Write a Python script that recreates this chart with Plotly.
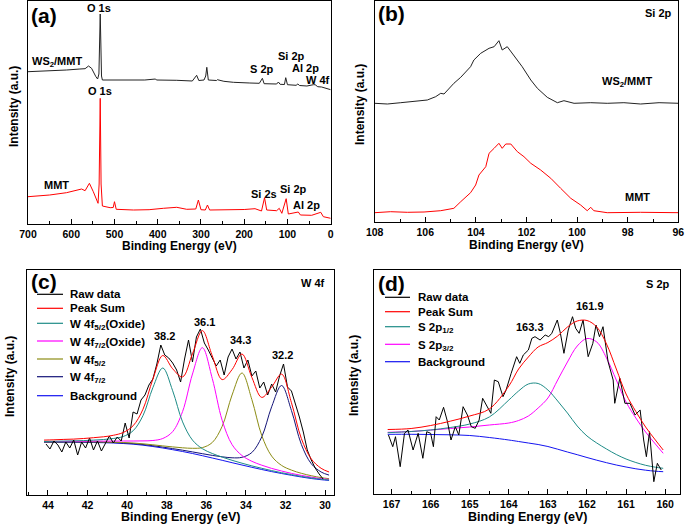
import plotly.graph_objects as go

FONT = "Liberation Sans, Arial, sans-serif"

# ---------------- (a) survey ----------------
a_ws2_x = [700, 650, 611, 580, 568, 560, 553, 543, 539, 536, 534.5, 533, 531.5, 530, 528, 500, 450, 433, 430, 405, 403,
           356, 320, 310, 305, 293, 289, 286.5, 283, 264, 262, 247, 225, 187, 165, 158, 154, 125, 121, 117, 107,
           104, 100, 80, 76, 72, 55, 40, 36, 30, 21, 0]
a_ws2_y = [152.3, 153, 154, 155, 155.3, 158, 155.7, 147.3, 145, 150, 185, 210, 180, 148, 144, 144, 144.3, 144.7, 144, 145, 144,
           143.7, 143, 148.7, 143.5, 144, 148, 156.7, 144, 143.5, 144.3, 142.7, 141.7, 141, 140.7, 145.7, 140.3, 140, 142, 139.7, 139.5,
           146.3, 139.3, 138.7, 140, 138.5, 138, 139.3, 139.3, 137.3, 137, 134.3]
a_mmt_x = [700, 650, 611, 580, 576, 568, 558, 549, 541, 538, 535.5, 533, 531, 528, 510, 503, 500, 496, 456, 420, 387,
           356, 333, 312, 306, 300, 290, 285, 280, 225, 200, 175, 160, 153, 148, 125, 119, 113, 103, 98, 80, 75, 70,
           44, 23, 17, 0]
a_mmt_y = [27.3, 29, 31.3, 34.3, 35, 33.3, 40.7, 32.3, 22.3, 20.7, 40, 125.7, 40, 18, 16.3, 16.5, 22.3, 14.7, 14, 14.3, 15.7,
           16.7, 14.7, 15, 24, 14.3, 14, 19, 14, 14, 14.5, 15.3, 13, 26.3, 14, 13.3, 15.7, 10.7, 25.3, 10, 11.3, 12, 9,
           8.7, 11.7, 7.3, 5.7]

# ---------------- (b) Si 2p ----------------
b_ws2_x = [108.0, 107.5, 106.97, 106.32, 105.92, 105.59, 105.39, 105.26, 104.87, 104.6, 104.21, 104.08, 103.81, 103.48,
           103.28, 103.09, 102.96, 102.76, 102.49, 102.17, 101.83, 101.57, 101.18, 100.78, 100.52, 100.12, 99.46,
           98.81, 98.15, 97.49, 96.76, 95.97]
b_ws2_y = [118.7, 118, 119.3, 121, 122, 125.3, 128.7, 128, 138.7, 144.7, 155.3, 162, 168.7, 173.7,
           175.3, 181.3, 172, 175.3, 166, 155.3, 142, 133.7, 124.7, 119.3, 121.3, 118.7, 119.3,
           118.7, 119.3, 118, 119.3, 118.7]
b_mmt_x = [108.0, 107.37, 106.71, 106.05, 105.39, 104.87, 104.6, 104.21, 104.01, 103.88, 103.61, 103.48, 103.28, 103.09,
           102.96, 102.82, 102.62, 102.36, 102.1, 101.83, 101.44, 101.04, 100.65, 100.25, 99.86, 99.6, 99.46, 99.34,
           98.81, 97.49, 95.97]
b_mmt_y = [9.3, 10.3, 9.7, 10, 11.3, 13.7, 20.3, 29.3, 37, 47, 55.3, 68.7, 73.7, 78.7,
           73.7, 78, 78, 70.3, 65.3, 58.7, 52, 43.7, 33.7, 23.7, 17, 11.3, 14.7, 11.3,
           9.3, 9.7, 9.3]

# ---------------- (c) W 4f ----------------
c_raw_x = [44.1, 43.9, 43.7, 43.5, 43.3, 43.1, 42.9, 42.7, 42.5, 42.3, 42.1, 41.9, 41.7, 41.5, 41.3, 41.1, 40.9, 40.7,
           40.5, 40.3, 40.1, 39.9, 39.7, 39.5, 39.3, 39.1, 38.9, 38.7, 38.5, 38.3, 38.1, 37.9, 37.7, 37.5, 37.3, 37.1,
           36.9, 36.7, 36.5, 36.3, 36.1, 35.9, 35.7, 35.5, 35.3, 35.1, 34.9, 34.7, 34.5, 34.3, 34.1, 33.9, 33.7, 33.5,
           33.3, 33.1, 32.9, 32.7, 32.5, 32.3, 32.1, 31.9, 31.7, 31.5, 31.3, 31.1, 30.9, 30.7, 30.5, 30.3, 30.1]
c_raw_y = [51, 46, 54, 50, 43, 53, 47, 55, 40, 53, 47, 57, 45, 54, 44, 51, 59, 52,
           58, 54, 72, 57, 83, 81, 95, 100, 110, 116, 131, 150, 140, 137, 132, 125, 113, 136,
           155, 133, 158, 166, 152, 145, 137, 129, 135, 120, 138, 146, 136, 143, 127, 135, 119, 124,
           107, 113, 100, 111, 103, 119, 131, 108, 104, 92, 78, 63, 45, 35, 27, 21, 16]
c_fit_x = [44.2, 43.7, 43.2, 42.7, 42.2, 41.7, 41.2, 40.7, 40.2, 39.7, 39.2, 38.7, 38.2, 37.7, 37.2, 36.7, 36.2, 35.7,
           35.2, 34.7, 34.2, 33.7, 33.2, 32.7, 32.2, 31.7, 31.2, 30.7, 30.2, 29.8]
c_bg = [52.7, 52.7, 52.7, 52.7, 52.6, 52.5, 52.3, 52.0, 51.5, 50.8, 49.8, 48.5, 47.0, 45.3, 43.5, 41.5, 39.3, 37.0,
        34.7, 32.3, 30.0, 27.7, 25.5, 23.4, 21.5, 19.7, 18.0, 16.5, 15.3, 14.6]
c_ox52 = [53.5, 53.7, 53.9, 54.1, 54.4, 54.9, 55.5, 56.5, 58.5, 64.2, 79.4, 107.4, 127.0, 104.2, 73.1, 54.9, 46.3, 41.5,
          37.9, 34.7, 31.8, 29.1, 26.7, 24.4, 22.3, 20.4, 18.6, 17.1, 15.8, 15.0]
c_ox72 = [53.4, 53.5, 53.6, 53.7, 53.7, 53.9, 53.9, 53.9, 54.0, 54.0, 54.1, 54.5, 56.5, 63.4, 83.5, 121.0, 147.3, 116.5,
          74.7, 50.4, 39.5, 33.7, 29.8, 26.6, 24.0, 21.6, 19.6, 17.9, 16.4, 15.6]
c_w52 = [53.1, 53.1, 53.2, 53.2, 53.2, 53.1, 53.0, 52.8, 52.5, 52.0, 51.2, 50.2, 49.1, 48.1, 47.2, 46.7, 47.4, 52.5,
         68.7, 100.0, 122.0, 95.4, 59.5, 38.9, 29.6, 24.9, 21.7, 19.3, 17.4, 16.3]
c_w72 = [53.0, 53.0, 53.0, 53.0, 53.0, 52.9, 52.7, 52.5, 52.0, 51.4, 50.5, 49.3, 47.9, 46.4, 44.8, 43.1, 41.3, 39.6,
         38.2, 37.2, 37.7, 42.5, 58.1, 88.2, 109.5, 84.5, 50.6, 31.3, 23.0, 19.9]
c_sum = [54.9, 55.2, 55.6, 55.9, 56.5, 57.3, 58.2, 59.7, 62.5, 69.2, 85.8, 115.9, 139.5, 126.2, 118.1, 141.2, 164.4, 139.1,
         115.4, 125.4, 141.0, 117.6, 97.6, 107.9, 120.9, 92.3, 56.5, 36.1, 26.7, 23.0]

# ---------------- (d) S 2p ----------------
d_raw_x = [167.08, 166.97, 166.9, 166.78, 166.67, 166.58, 166.45, 166.32, 166.2, 166.1, 166.0, 165.93, 165.86, 165.78,
           165.67, 165.57, 165.48, 165.37, 165.28, 165.17, 165.06, 164.96, 164.86, 164.76, 164.67, 164.54, 164.46,
           164.37, 164.27, 164.15, 164.07, 163.94, 163.8, 163.72, 163.63, 163.5, 163.41, 163.33, 163.2, 163.07,
           162.98, 162.9, 162.76, 162.68, 162.59, 162.48, 162.37, 162.29, 162.2, 162.1, 161.97, 161.85, 161.77,
           161.68, 161.59, 161.46, 161.33, 161.29, 161.16, 161.03, 160.9, 160.77, 160.64, 160.55, 160.48, 160.4,
           160.29, 160.2, 160.1]
d_raw_y = [59, 47.3, 57.3, 27.3, 60.7, 64, 44, 60.7, 35.7, 62.3, 60.7, 47.3, 77.3, 74,
           86.7, 72.3, 54, 67.3, 59, 87.3, 79, 67.3, 65.7, 74, 95.7, 87.3, 80.7,
           114, 112.3, 97.3, 104, 120.7, 137.3, 130.7, 139, 144, 155.7, 157.3, 154, 159,
           157.3, 160.7, 174, 160.7, 140.7, 164, 177.3, 165.7, 160.7, 174, 137.3, 150.7, 169,
           157.3, 167.3, 132.3, 114, 90.7, 115.7, 90.7, 90.7, 79, 84, 54, 37.3, 62.3,
           12.3, 30.7, 24]
d_fit_x = [167.1, 166.5, 166.0, 165.5, 165.0, 164.5, 164.0, 163.75, 163.5, 163.25, 163.0, 162.75, 162.5, 162.25,
           162.0, 161.75, 161.5, 161.25, 161.0, 160.75, 160.5, 160.25, 160.05]
d_bg = [59.7, 59.7, 59.5, 59.2, 58.5, 56.5, 54.0, 52.5, 51.0, 49.5, 47.5, 44.8, 42.0, 39.3,
        36.5, 33.8, 31.3, 29.0, 27.0, 25.2, 23.8, 22.8, 22.3]
d_p12 = [61.3, 62.5, 64.0, 66.5, 70.0, 77.0, 94.0, 103.0, 110.0, 110.5, 104.0, 93.0, 81.0, 68.0,
         58.0, 51.0, 45.0, 39.5, 35.0, 31.5, 28.7, 26.8, 25.7]
d_p32 = [61.7, 62.5, 64.0, 65.5, 67.0, 69.0, 71.0, 73.5, 78.0, 86.0, 96.0, 114.0, 132.0, 148.0,
         155.5, 152.0, 136.0, 114.0, 92.0, 76.0, 62.0, 50.0, 40.7]
d_sum = [64.5, 65.5, 68.5, 72.8, 78.0, 85.0, 108.0, 125.0, 137.0, 147.0, 151.5, 158.0, 167.0, 173.0,
         173.5, 167.0, 150.0, 125.0, 100.0, 82.5, 67.0, 54.0, 44.0]

# legend entries (label, colour key)
c_legend = ["Raw data", "Peak Sum", "W 4f<sub>5/2</sub>(Oxide)", "W 4f<sub>7/2</sub>(Oxide)",
            "W 4f<sub>5/2</sub>", "W 4f<sub>7/2</sub>", "Background"]
d_legend = ["Raw data", "Peak Sum", "S 2p<sub>1/2</sub>", "S 2p<sub>3/2</sub>", "Background"]

RED = "#FF0000"
TEAL = "#1E8C87"
MAG = "#FF00FF"
OLIVE = "#8C8C14"
NAVY = "#141478"
BLUE = "#1414F0"
BLK = "#000000"
c_colors = [BLK, RED, TEAL, MAG, OLIVE, NAVY, BLUE]
d_colors = [BLK, RED, TEAL, MAG, BLUE]

W, H = 685, 525
def px(x): return x / W
def py(y): return 1 - y / H

fig = go.Figure()

def add(x, y, color, xa, ya, shape="linear", width=1.0, name=""):
    fig.add_trace(go.Scatter(x=x, y=y, mode="lines", line=dict(color=color, width=width, shape=shape),
                             xaxis=xa, yaxis=ya, name=name, showlegend=False, hoverinfo="skip"))

# (a)
add(a_ws2_x, a_ws2_y, "#222222", "x", "y", name="WS2/MMT")
add(a_mmt_x, a_mmt_y, RED, "x", "y", name="MMT")
# (b)
add(b_ws2_x, b_ws2_y, "#222222", "x2", "y2", name="WS2/MMT")
add(b_mmt_x, b_mmt_y, RED, "x2", "y2", name="MMT")
# (c)
add(c_fit_x, c_bg, BLUE, "x3", "y3", "spline", name="Background")
add(c_fit_x, c_w72, NAVY, "x3", "y3", "spline", name="W 4f7/2")
add(c_fit_x, c_w52, OLIVE, "x3", "y3", "spline", name="W 4f5/2")
add(c_fit_x, c_ox72, MAG, "x3", "y3", "spline", name="W 4f7/2(Oxide)")
add(c_fit_x, c_ox52, TEAL, "x3", "y3", "spline", name="W 4f5/2(Oxide)")
add(c_raw_x, c_raw_y, BLK, "x3", "y3", name="Raw data")
add(c_fit_x, c_sum, RED, "x3", "y3", "spline", name="Peak Sum")
# (d)
add(d_fit_x, d_bg, BLUE, "x4", "y4", "spline", name="Background")
add(d_fit_x, d_p32, MAG, "x4", "y4", "spline", name="S 2p3/2")
add(d_fit_x, d_p12, TEAL, "x4", "y4", "spline", name="S 2p1/2")
add(d_raw_x, d_raw_y, BLK, "x4", "y4", name="Raw data")
add(d_fit_x, d_sum, RED, "x4", "y4", "spline", name="Peak Sum")

tickfont = dict(family=FONT, size=10.5, color="black", weight="bold")

def xax(left, right, rng, dtick, minor, anchor):
    return dict(domain=[px(left), px(right)], range=rng, dtick=dtick, tick0=0, ticks="inside", ticklen=5,
                tickwidth=1, tickcolor="black", automargin=False,
                minor=dict(dtick=minor, tick0=0, ticks="inside", ticklen=3, tickwidth=1, tickcolor="black"),
                showline=True, linecolor="black", linewidth=1, mirror=True, showgrid=False, zeroline=False,
                tickfont=tickfont, anchor=anchor)

def yax(top, bottom, rng, anchor):
    return dict(domain=[py(bottom), py(top)], range=rng, showticklabels=False, ticks="", showline=True,
                linecolor="black", linewidth=1, mirror=True, showgrid=False, zeroline=False, anchor=anchor,
                automargin=False)

fig.update_layout(
    width=W, height=H, margin=dict(l=0, r=0, t=0, b=0, pad=0, autoexpand=False),
    plot_bgcolor="white", paper_bgcolor="white", showlegend=False,
    xaxis=xax(28, 330.7, [700, 0], 100, 50, "y"),
    yaxis=yax(1, 224, [0, 223], "x"),
    xaxis2=xax(374.7, 678.3, [108, 96], 2, 1, "y2"),
    yaxis2=yax(1, 222, [0, 221], "x2"),
    xaxis3=xax(27, 334, [45.06, 29.55], 2, 1, "y3"),
    yaxis3=yax(270, 495, [0, 225], "x3"),
    xaxis4=xax(374, 680, [167.45, 159.62], 1, 0.5, "y4"),
    yaxis4=yax(270, 494, [0, 224], "x4"),
)

anns = []
shapes = []
def ann(x, y, text, size=11, angle=0, xanchor="center"):
    anns.append(dict(x=px(x), y=py(y), xref="paper", yref="paper", text=text, showarrow=False,
                     textangle=angle, xanchor=xanchor, yanchor="middle",
                     font=dict(family=FONT, size=size, color="black", weight="bold")))

# manual legends
c_rows = [294.3, 308.3, 323.3, 341, 359, 376.7, 395.7]
for lab, col, yy in zip(c_legend, c_colors, c_rows):
    shapes.append(dict(type="line", xref="paper", yref="paper", x0=px(37), x1=px(63), y0=py(yy), y1=py(yy),
                       line=dict(color=col, width=1.2)))
    ann(68, yy + (1.5 if "sub" in lab else 0), lab, 11.5, xanchor="left")
d_rows = [297.3, 311.7, 326.7, 344.3, 361.7]
for lab, col, yy in zip(d_legend, d_colors, d_rows):
    shapes.append(dict(type="line", xref="paper", yref="paper", x0=px(385), x1=px(410), y0=py(yy), y1=py(yy),
                       line=dict(color=col, width=1.2)))
    ann(416, yy + (1.5 if "sub" in lab else 0), lab, 11.5, xanchor="left")

# panel letters
ann(44, 15, "(a)", 21)
ann(392, 14, "(b)", 21)
ann(44, 281, "(c)", 21)
ann(392, 283, "(d)", 21)
# axis titles
ann(179.4, 246, "Binding Energy (eV)", 12)
ann(526.5, 245, "Binding Energy (eV)", 12)
ann(180.5, 517, "Binding Energy (eV)", 12.5)
ann(527, 517, "Binding Energy (eV)", 12.5)
ann(14, 107, "Intensity (a.u.)", 12, -90)
ann(360, 105, "Intensity (a.u.)", 12, -90)
ann(10, 377, "Intensity (a.u.)", 12, -90)
ann(354, 376, "Intensity (a.u.)", 12, -90)
# (a) labels
ann(99, 8, "O 1s")
ann(100, 91, "O 1s")
ann(57, 62, "WS<sub>2</sub>/MMT")
ann(56, 185, "MMT")
ann(262, 69, "S 2p")
ann(291, 56, "Si 2p")
ann(305, 68, "Al 2p")
ann(318, 80, "W 4f")
ann(264, 194, "Si 2s")
ann(293, 189, "Si 2p")
ann(306, 205, "Al 2p")
# (b) labels
ann(658, 13, "Si 2p")
ann(627, 82, "WS<sub>2</sub>/MMT")
ann(637, 197, "MMT")
# (c) labels
ann(313, 283, "W 4f")
ann(164, 336, "38.2")
ann(204, 322, "36.1")
ann(240, 340, "34.3")
ann(282, 355, "32.2")
# (d) labels
ann(658, 284, "S 2p")
ann(530, 327, "163.3")
ann(590, 306, "161.9")

fig.update_layout(annotations=anns, shapes=shapes)
fig.write_html("out.html", config={"displayModeBar": False},
               post_script="document.body.style.margin='0';document.body.style.overflow='hidden';")
